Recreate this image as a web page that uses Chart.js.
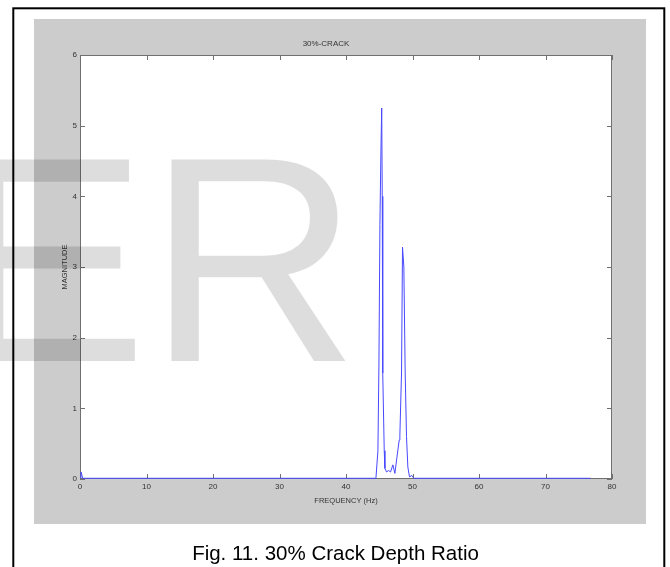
<!DOCTYPE html>
<html>
<head>
<meta charset="utf-8">
<script src="https://cdn.jsdelivr.net/npm/chart.js@4"></script>
<style>
  html, body { margin: 0; padding: 0; background: #ffffff; }
  #wrap { position: relative; width: 670px; height: 567px; overflow: hidden; }
  canvas { display: block; }
</style>
</head>
<body>
<div id="wrap"><canvas id="spectrum" width="670" height="567"></canvas></div>
<script>
// Spectrum of the 30 % cracked beam: frequency (Hz) against FFT magnitude
const freqHz = [0, 0.15, 0.4, 44.5, 44.8, 44.95, 45.1, 45.25, 45.37, 45.45, 45.5, 45.55, 45.75, 45.85,
  46.1, 46.4, 46.7, 47.05, 47.35, 47.65, 48.0, 48.1, 48.35, 48.5, 48.7, 48.9, 49.1, 49.3, 49.55, 49.9, 50.2, 76.8];
const magnitude = [0.02, 0.1, 0.01, 0.01, 0.4, 1.6, 3.6, 4.63, 5.25, 4.0, 3.4, 1.5, 0.4, 0.15,
  0.1, 0.12, 0.1, 0.2, 0.08, 0.3, 0.55, 0.62, 1.5, 3.28, 3.0, 1.5, 0.6, 0.17, 0.03, 0.05, 0.01, 0.01];

const xTicks = [0, 10, 20, 30, 40, 50, 60, 70, 80];
const yTicks = [0, 1, 2, 3, 4, 5, 6];

const plotTitle = '30%-CRACK';
const xTitle = 'FREQUENCY (Hz)';
const yTitle = 'MAGNITUDE';
const caption = 'Fig. 11. 30% Crack Depth Ratio';
const watermark = 'ER';

const points = freqHz.map((f, i) => ({ x: f, y: magnitude[i] }));

// Figure background: page frame, grey figure panel, white axes area
const figurePlugin = {
  id: 'figure',
  beforeDraw(chart) {
    const { ctx, chartArea: a } = chart;
    ctx.save();
    ctx.fillStyle = '#ffffff';
    ctx.fillRect(0, 0, chart.width, chart.height);
    ctx.fillStyle = '#cccccc';
    ctx.fillRect(34, 19, 612, 505);
    ctx.fillStyle = '#ffffff';
    ctx.fillRect(a.left, a.top, a.right - a.left, a.bottom - a.top);
    ctx.strokeStyle = '#000000';
    ctx.lineWidth = 2;
    ctx.strokeRect(13.3, 8.3, 651, 600);
    ctx.restore();
  },
  beforeDatasetsDraw(chart) {
    // axes box with inward tick marks on all four sides
    const { ctx, chartArea: a, scales } = chart;
    ctx.save();
    ctx.strokeStyle = '#707070';
    ctx.lineWidth = 1;
    ctx.strokeRect(a.left + 0.5, a.top + 0.5, a.right - a.left - 1, a.bottom - a.top - 1);
    ctx.beginPath();
    const tl = 5;
    xTicks.forEach(v => {
      const px = Math.round(scales.x.getPixelForValue(v)) + 0.5;
      ctx.moveTo(px, a.bottom); ctx.lineTo(px, a.bottom - tl);
      ctx.moveTo(px, a.top); ctx.lineTo(px, a.top + tl);
    });
    yTicks.forEach(v => {
      const py = Math.round(scales.y.getPixelForValue(v)) + 0.5;
      ctx.moveTo(a.left, py); ctx.lineTo(a.left + tl, py);
      ctx.moveTo(a.right, py); ctx.lineTo(a.right - tl, py);
    });
    ctx.stroke();
    ctx.restore();
  },
  afterDraw(chart) {
    const { ctx } = chart;
    ctx.save();
    // translucent publisher mark
    ctx.fillStyle = 'rgba(0,0,0,0.135)';
    ctx.font = '293px "Liberation Sans", Arial, sans-serif';
    ctx.textBaseline = 'alphabetic';
    ctx.textAlign = 'left';
    ctx.fillText(watermark, -48, 361);
    // figure caption
    ctx.fillStyle = '#000000';
    ctx.font = '20.5px "Liberation Sans", Arial, sans-serif';
    ctx.textAlign = 'center';
    ctx.fillText(caption, 335.5, 560);
    ctx.restore();
  }
};

const tickFont = { family: '"Liberation Sans", Arial, sans-serif', size: 8 };

new Chart(document.getElementById('spectrum'), {
  type: 'line',
  data: {
    datasets: [{
      data: points,
      borderColor: '#4848ff',
      borderWidth: 1,
      pointRadius: 0,
      tension: 0,
      fill: false
    }]
  },
  options: {
    responsive: false,
    animation: false,
    devicePixelRatio: 1,
    layout: { padding: { left: 40, right: 58, top: 0, bottom: 62 } },
    plugins: {
      legend: { display: false },
      tooltip: { enabled: false },
      title: {
        display: true,
        text: plotTitle,
        color: '#333333',
        font: { family: tickFont.family, size: 8, weight: 'normal', lineHeight: 1.2 },
        padding: { top: 39, bottom: 6.4 }
      }
    },
    scales: {
      x: {
        type: 'linear',
        min: 0,
        max: 80,
        afterBuildTicks(scale) { scale.ticks = xTicks.map(v => ({ value: v })); },
        afterFit(scale) { scale.height = 26; },
        grid: { display: false, drawTicks: false },
        border: { display: false },
        ticks: { color: '#333333', font: tickFont, padding: 3, maxRotation: 0 },
        title: {
          display: true,
          text: xTitle,
          color: '#333333',
          font: { family: tickFont.family, size: 7.5, lineHeight: 1.2 },
          padding: { top: 0, bottom: 0 }
        }
      },
      y: {
        min: 0,
        max: 6,
        afterBuildTicks(scale) { scale.ticks = yTicks.map(v => ({ value: v })); },
        afterFit(scale) { scale.width = 40; },
        grid: { display: false, drawTicks: false },
        border: { display: false },
        ticks: { color: '#333333', font: tickFont, padding: 3 },
        title: {
          display: true,
          text: yTitle,
          color: '#333333',
          font: { family: tickFont.family, size: 7.5, lineHeight: 1.2 },
          padding: { top: 20, bottom: 0 }
        }
      }
    }
  },
  plugins: [figurePlugin]
});
</script>
</body>
</html>
